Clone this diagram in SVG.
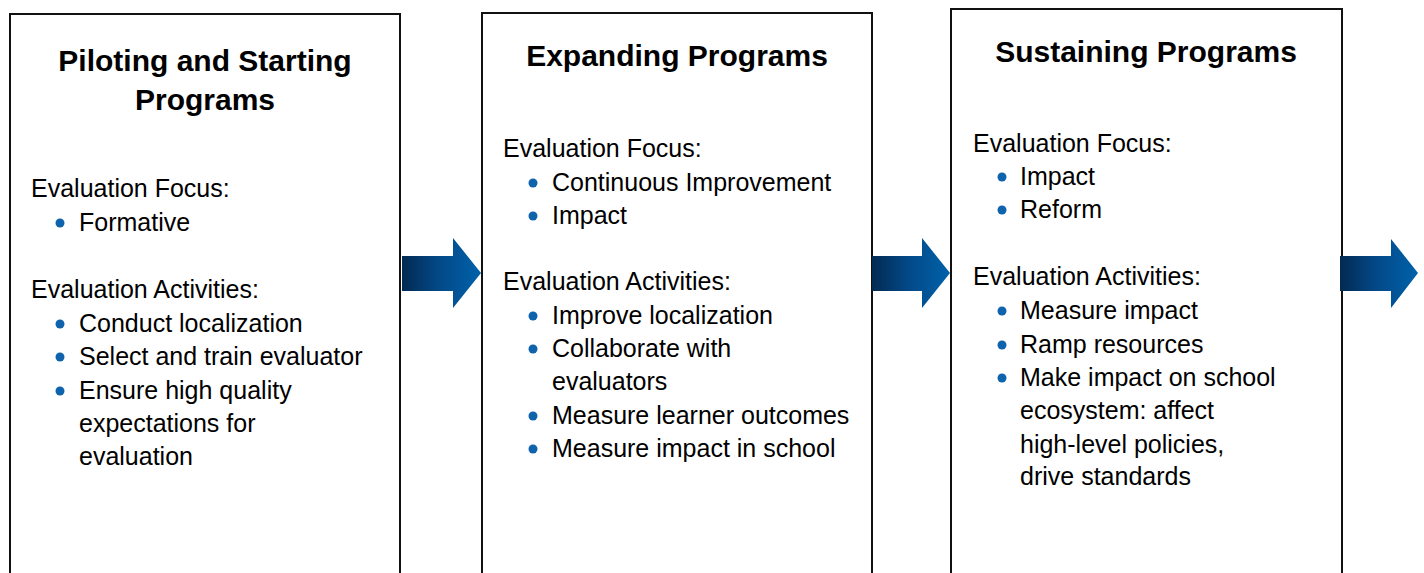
<svg xmlns="http://www.w3.org/2000/svg" width="1424" height="573" viewBox="0 0 1424 573">
<style>
.box{fill:#fff;stroke:#111;stroke-width:2}
.title{font-family:"Liberation Sans",Arial,sans-serif;font-weight:bold;font-size:30px;fill:#000;text-anchor:middle}
.t{font-family:"Liberation Sans",Arial,sans-serif;font-size:25px;fill:#000}
.b{fill:#0f62ac}
.arrow{fill:url(#ag)}
</style>
<defs>
<linearGradient id="ag" x1="0" y1="0" x2="1" y2="0">
<stop offset="0" stop-color="#022a52"/>
<stop offset="0.45" stop-color="#034886"/>
<stop offset="1" stop-color="#0062aa"/>
</linearGradient>
</defs>
<g id="node-piloting">
<rect class="box" x="10" y="14" width="390" height="580"/>
<text class="title" x="205" y="71">Piloting and Starting</text>
<text class="title" x="205" y="110">Programs</text>
<text class="t" x="31" y="197">Evaluation Focus:</text>
<circle class="b" cx="60" cy="223" r="4.5"/><text class="t" x="79" y="231">Formative</text>
<text class="t" x="31" y="298">Evaluation Activities:</text>
<circle class="b" cx="60" cy="324" r="4.5"/><text class="t" x="79" y="332">Conduct localization</text>
<circle class="b" cx="60" cy="357" r="4.5"/><text class="t" x="79" y="365">Select and train evaluator</text>
<circle class="b" cx="60" cy="391" r="4.5"/><text class="t" x="79" y="399">Ensure high quality</text>
<text class="t" x="79" y="432">expectations for</text>
<text class="t" x="79" y="465">evaluation</text>
</g>
<g id="node-expanding">
<rect class="box" x="482" y="13" width="390" height="580"/>
<text class="title" x="677" y="66">Expanding Programs</text>
<text class="t" x="503" y="157">Evaluation Focus:</text>
<circle class="b" cx="533" cy="183" r="4.5"/><text class="t" x="552" y="191">Continuous Improvement</text>
<circle class="b" cx="533" cy="216" r="4.5"/><text class="t" x="552" y="224">Impact</text>
<text class="t" x="503" y="290">Evaluation Activities:</text>
<circle class="b" cx="533" cy="316" r="4.5"/><text class="t" x="552" y="324">Improve localization</text>
<circle class="b" cx="533" cy="349" r="4.5"/><text class="t" x="552" y="357">Collaborate with</text>
<text class="t" x="552" y="390">evaluators</text>
<circle class="b" cx="533" cy="416" r="4.5"/><text class="t" x="552" y="424">Measure learner outcomes</text>
<circle class="b" cx="533" cy="449" r="4.5"/><text class="t" x="552" y="457">Measure impact in school</text>
</g>
<g id="node-sustaining">
<rect class="box" x="951" y="9" width="391" height="585"/>
<text class="title" x="1146" y="62">Sustaining Programs</text>
<text class="t" x="973" y="152">Evaluation Focus:</text>
<circle class="b" cx="1002" cy="177" r="4.5"/><text class="t" x="1020" y="185">Impact</text>
<circle class="b" cx="1002" cy="210" r="4.5"/><text class="t" x="1020" y="218">Reform</text>
<text class="t" x="973" y="285">Evaluation Activities:</text>
<circle class="b" cx="1002" cy="311" r="4.5"/><text class="t" x="1020" y="319">Measure impact</text>
<circle class="b" cx="1002" cy="345" r="4.5"/><text class="t" x="1020" y="353">Ramp resources</text>
<circle class="b" cx="1002" cy="378" r="4.5"/><text class="t" x="1020" y="386">Make impact on school</text>
<text class="t" x="1020" y="419">ecosystem: affect</text>
<text class="t" x="1020" y="453">high-level policies,</text>
<text class="t" x="1020" y="485">drive standards</text>
</g>
<g id="connectors">
<polygon class="arrow" points="402,256 453,256 453,238 481,273 453,308 453,291 402,291"/>
<polygon class="arrow" points="872,256 922,256 922,238 950,273 922,308 922,291 872,291"/>
<polygon class="arrow" points="1340,256 1391,256 1391,239 1418,273 1391,308 1391,291 1340,291"/>
</g>
</svg>
